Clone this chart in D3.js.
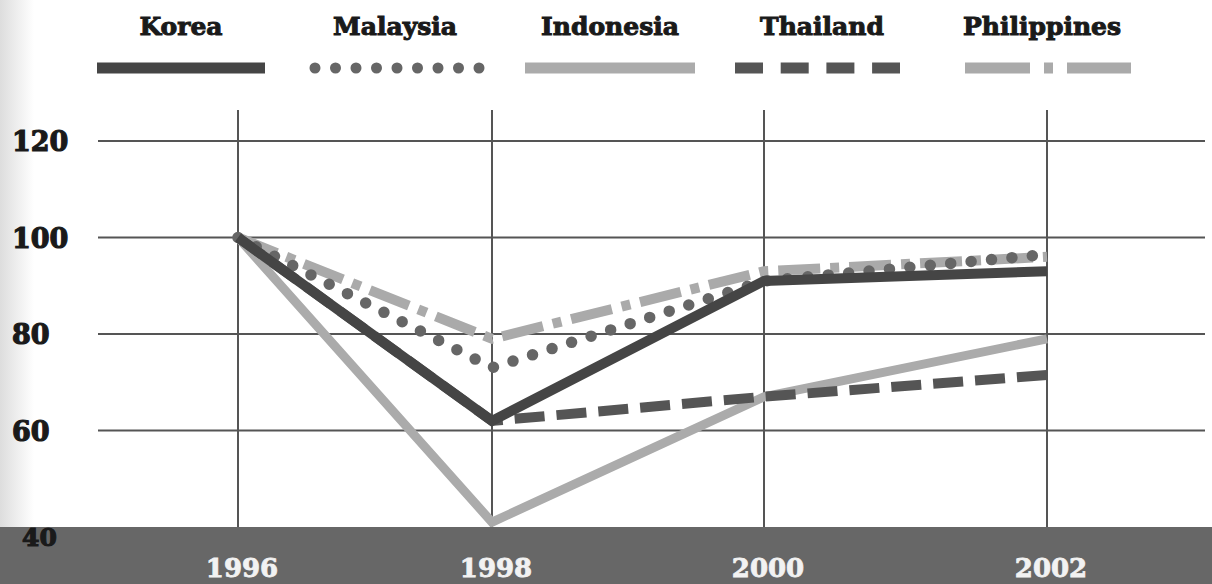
<!DOCTYPE html>
<html>
<head>
<meta charset="utf-8">
<script src="https://cdn.jsdelivr.net/npm/d3@7"></script>
<style>
  body { margin: 0; background: #fff; }
  svg { display: block; }
  .lbl { font-family: 'DejaVu Serif', serif; font-weight: bold; }
</style>
</head>
<body>
<div id="chart"></div>
<script>
var years = [1996, 1998, 2000, 2002];
var yTicks = [40, 60, 80, 100, 120];
var korea = [100, 62, 91, 93];
var malaysia = [100, 73, 91, 96.5];
var indonesia = [100, 41, 67, 79];
var thailand = [100, 62, 67, 71.5];
var philippines = [100, 79, 93, 96];

var W = 1212, H = 584;

// series drawn from back to front
var series = [
  {name: 'Indonesia', values: indonesia, color: '#ababab', width: 9, dash: null, cap: 'butt'},
  {name: 'Philippines', values: philippines, color: '#aaaaaa', width: 10, dash: '42 10 9 10', cap: 'butt'},
  {name: 'Thailand', values: thailand, color: '#555555', width: 10, dash: '30 12', cap: 'butt'},
  {name: 'Malaysia', values: malaysia, color: '#666666', width: 11.5, dash: '0 20.5', cap: 'round'},
  {name: 'Korea', values: korea, color: '#454545', width: 10, dash: null, cap: 'butt'}
];
var legendOrder = ['Korea', 'Malaysia', 'Indonesia', 'Thailand', 'Philippines'];
var legendX = [181, 395, 610, 822, 1042];
var legendSwatch = [[97, 265], [310, 485], [525, 695], [735, 900], [965, 1131]];
var legendDash = {Thailand: '28 17.7', Philippines: '65 14 9 14 65'};

var svg = d3.select('#chart').append('svg')
  .attr('width', W).attr('height', H);

// scanned-paper edge on the left
var grad = svg.append('defs').append('linearGradient').attr('id', 'edge');
grad.append('stop').attr('offset', '0').attr('stop-color', '#dddddd');
grad.append('stop').attr('offset', '1').attr('stop-color', '#ffffff');
svg.append('rect').attr('width', 34).attr('height', H).attr('fill', 'url(#edge)');

// uneven spacing of the printed scan, kept on a piecewise scale
var x = d3.scaleLinear().domain(years).range([238, 492, 764, 1047]);
var y = d3.scaleLinear().domain([40, 120]).range([527, 141]);

// gridlines
svg.append('g').selectAll('line.h')
  .data(yTicks.slice(1))
  .enter().append('line')
  .attr('x1', 98).attr('x2', 1205)
  .attr('y1', function(d) { return y(d); })
  .attr('y2', function(d) { return y(d); })
  .attr('stroke', '#555').attr('stroke-width', 2);

svg.append('g').selectAll('line.v')
  .data(years)
  .enter().append('line')
  .attr('x1', function(d) { return x(d); })
  .attr('x2', function(d) { return x(d); })
  .attr('y1', 110).attr('y2', 527)
  .attr('stroke', '#555').attr('stroke-width', 2);

// lines
var line = d3.line()
  .x(function(d, i) { return x(years[i]); })
  .y(function(d) { return y(d); });

svg.append('g').selectAll('path')
  .data(series)
  .enter().append('path')
  .attr('d', function(s) { return line(s.values); })
  .attr('fill', 'none')
  .attr('stroke', function(s) { return s.color; })
  .attr('stroke-width', function(s) { return s.width; })
  .attr('stroke-dasharray', function(s) { return s.dash; })
  .attr('stroke-linecap', function(s) { return s.cap; })
  .attr('stroke-linejoin', 'miter');

// bottom band
svg.append('rect')
  .attr('x', 0).attr('y', 527).attr('width', W).attr('height', H - 527)
  .attr('fill', '#676767');

// y labels
svg.append('g').selectAll('text')
  .data(yTicks)
  .enter().append('text')
  .attr('class', 'lbl')
  .attr('x', function(d) { return d === 40 ? 22 : 12; })
  .attr('y', function(d) { return d === 40 ? 546 : y(d) + 10; })
  .attr('font-size', function(d) { return d === 40 ? 25 : 27; })
  .attr('fill', '#1a1a1a')
  .attr('stroke', '#1a1a1a').attr('stroke-width', 1.2)
  .text(function(d) { return d; });

// x labels
svg.append('g').selectAll('text')
  .data(years)
  .enter().append('text')
  .attr('class', 'lbl')
  .attr('x', function(d) { return x(d) + 4; })
  .attr('y', 577)
  .attr('text-anchor', 'middle')
  .attr('font-size', 26)
  .attr('fill', '#f2f2f2')
  .attr('stroke', '#f2f2f2').attr('stroke-width', 0.8)
  .text(function(d) { return d; });

// legend
var byName = {};
series.forEach(function(s) { byName[s.name] = s; });

var leg = svg.append('g').selectAll('g')
  .data(legendOrder)
  .enter().append('g');

leg.append('text')
  .attr('class', 'lbl')
  .attr('x', function(d, i) { return legendX[i]; })
  .attr('y', 35)
  .attr('text-anchor', 'middle')
  .attr('font-size', 25)
  .attr('fill', '#1a1a1a')
  .attr('stroke', '#1a1a1a').attr('stroke-width', 1)
  .text(function(d) { return d; });

leg.append('line')
  .attr('x1', function(d, i) { return legendSwatch[i][0] + (d === 'Malaysia' ? 5 : 0); })
  .attr('x2', function(d, i) { return legendSwatch[i][1]; })
  .attr('y1', 68).attr('y2', 68)
  .attr('stroke', function(d) { return byName[d].color; })
  .attr('stroke-width', 11)
  .attr('stroke-linecap', function(d) { return byName[d].cap; })
  .attr('stroke-dasharray', function(d) {
    return legendDash[d] || byName[d].dash;
  });
</script>
</body>
</html>
